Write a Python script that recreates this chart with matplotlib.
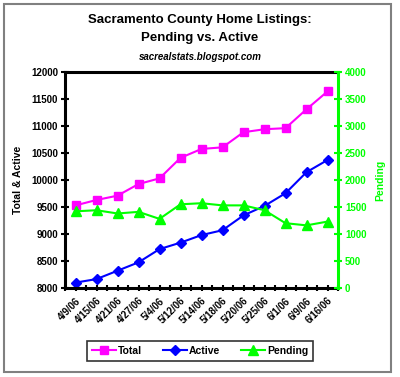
import numpy as np
import matplotlib
matplotlib.use("Agg")
import matplotlib.pyplot as plt
from matplotlib.patches import Rectangle

plt.rcParams['font.family'] = ['Liberation Sans', 'DejaVu Sans']
plt.rcParams['font.weight'] = 'bold'

dates = ["4/9/06", "4/15/06", "4/21/06", "4/27/06", "5/4/06", "5/12/06", "5/14/06",
         "5/18/06", "5/20/06", "5/25/06", "6/1/06", "6/9/06", "6/16/06"]
total = [9530, 9630, 9710, 9925, 10030, 10410, 10575, 10605, 10885, 10940, 10960, 11310, 11640]
active = [8100, 8165, 8320, 8475, 8720, 8840, 8980, 9070, 9345, 9520, 9755, 10145, 10370]
pending = [1420, 1440, 1380, 1410, 1280, 1550, 1570, 1530, 1530, 1440, 1200, 1160, 1230]

magenta = "#ff00ff"
blue = "#0000ff"
green = "#00ff00"

fig = plt.figure(figsize=(4, 3.77), dpi=100)
fig.patches.append(Rectangle((4/400, 5/377), 387/400, 368/377, transform=fig.transFigure,
                             fill=False, edgecolor="#808080", linewidth=1.5))

ax = fig.add_axes([65/400, 89/377, 273/400, 216/377])
ax2 = ax.twinx()
x = np.arange(len(dates))

l1, = ax.plot(x, total, color=magenta, marker="s", markersize=5.5, linewidth=1.5, label="Total")
l2, = ax.plot(x, active, color=blue, marker="D", markersize=5, linewidth=1.5, label="Active")
l3, = ax2.plot(x, pending, color=green, marker="^", markersize=7, linewidth=1.5, label="Pending")

ax.set_xlim(-0.5, len(dates) - 0.5)
ax.set_ylim(8000, 12000)
ax.set_yticks(np.arange(8000, 12001, 500))
ax2.set_ylim(0, 4000)
ax2.set_yticks(np.arange(0, 4001, 500))

ax.set_xticks(x)
ax.set_xticks(np.arange(-0.5, len(dates), 1), minor=True)
ax.set_xticklabels(dates, rotation=45, ha="right", rotation_mode="anchor", fontsize=7)

for s in ["left", "top", "bottom"]:
    ax.spines[s].set_linewidth(2.2)
ax.spines["right"].set_visible(False)
ax2.spines["right"].set_color(green)
ax2.spines["right"].set_linewidth(2.2)
for s in ["left", "top", "bottom"]:
    ax2.spines[s].set_visible(False)

ax.tick_params(axis="y", direction="inout", length=6, width=1.5, labelsize=7, pad=2)
ax.tick_params(axis="x", which="both", direction="inout", length=5, width=1.5, pad=3)
ax2.tick_params(axis="y", direction="inout", length=6, width=1.5, colors=green, labelsize=7, pad=2)
for t in ax.get_yticklabels() + ax2.get_yticklabels() + ax.get_xticklabels():
    t.set_fontweight("bold")

ax.set_ylabel("Total & Active", fontsize=7.5, fontweight="bold", labelpad=6)
ax2.set_ylabel("Pending", fontsize=7.5, fontweight="bold", color=green, rotation=90, labelpad=6)

fig.text(0.5, 1 - 20/377, "Sacramento County Home Listings:", ha="center", va="center",
         fontsize=9.5, fontweight="bold")
fig.text(0.5, 1 - 38/377, "Pending vs. Active", ha="center", va="center",
         fontsize=9.5, fontweight="bold")
fig.text(0.5, 1 - 57/377, "sacrealstats.blogspot.com", ha="center", va="center",
         fontsize=7, fontweight="bold", style="italic")

leg = fig.legend(handles=[l1, l2, l3], loc="center", bbox_to_anchor=(200/400, 1 - 351/377),
                 ncol=3, fontsize=7.5, frameon=True, fancybox=False, edgecolor="black",
                 handlelength=2.3, columnspacing=2.0, borderpad=0.5, handletextpad=0.2)
leg.get_frame().set_linewidth(1.2)
for t in leg.get_texts():
    t.set_fontweight("bold")

fig.savefig("out.png", dpi=100)
